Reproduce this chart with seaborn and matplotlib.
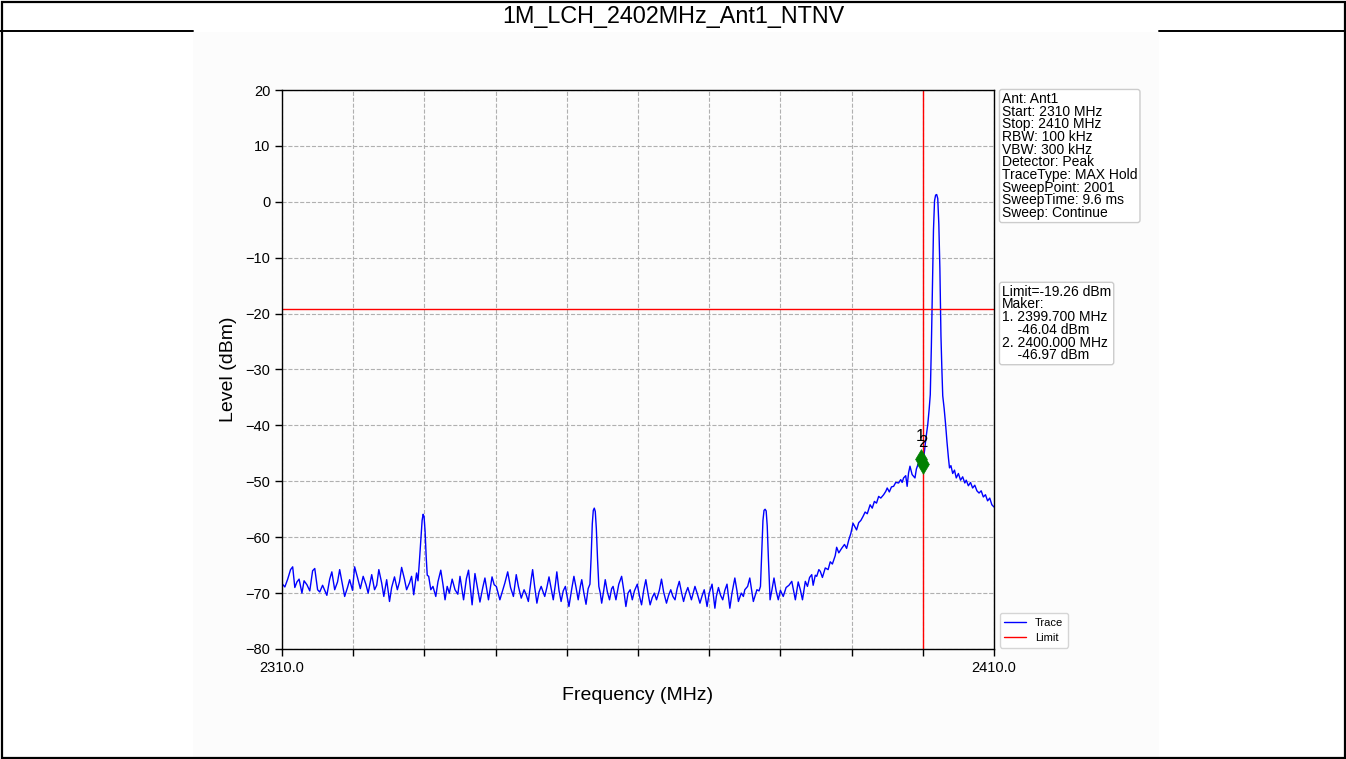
import matplotlib
matplotlib.use("Agg")
import matplotlib.pyplot as plt
from matplotlib.patches import Rectangle
from matplotlib.lines import Line2D
import pandas as pd
import seaborn as sns

sns.set_style("ticks")
plt.rcParams["font.family"] = ["Liberation Sans", "DejaVu Sans"]
plt.rcParams["text.color"] = "black"
plt.rcParams["axes.labelcolor"] = "black"

# ---------------------------------------------------------------- data
TITLE = "1M_LCH_2402MHz_Ant1_NTNV"
START_MHZ, STOP_MHZ = 2310.0, 2410.0
LIMIT_DBM = -19.26

marker_freq = [2399.700, 2400.000]
marker_level = [-46.04, -46.97]
marker_names = ["1", "2"]

settings_lines = [
    "Ant: Ant1",
    "Start: 2310 MHz",
    "Stop: 2410 MHz",
    "RBW: 100 kHz",
    "VBW: 300 kHz",
    "Detector: Peak",
    "TraceType: MAX Hold",
    "SweepPoint: 2001",
    "SweepTime: 9.6 ms",
    "Sweep: Continue",
]

y_ticks = [-80, -70, -60, -50, -40, -30, -20, -10, 0, 10, 20]
x_major_ticks = [2310, 2410]
x_major_labels = ["2310.0", "2410.0"]
x_minor_ticks = [2320, 2330, 2340, 2350, 2360, 2370, 2380, 2390, 2400]

# trace (frequency MHz, level dBm), MAX hold
floor_a = [
    (2310.0, -68.3), (2310.4, -68.9), (2310.8, -67.5), (2311.2, -65.8), (2311.5, -65.3),
    (2311.8, -69.0), (2312.1, -68.0), (2312.4, -67.5), (2312.8, -70.0), (2313.1, -67.8),
    (2313.5, -68.5), (2313.9, -69.6), (2314.3, -66.0), (2314.6, -65.6), (2315.0, -69.4),
    (2315.3, -69.8), (2315.7, -68.6), (2316.3, -70.4), (2316.7, -67.5), (2317.0, -66.2),
    (2317.4, -69.4), (2317.8, -68.0), (2318.1, -65.8), (2318.5, -68.5), (2318.8, -70.6),
    (2319.2, -69.0), (2319.5, -67.6), (2319.9, -69.5), (2320.2, -65.3), (2320.6, -67.2),
    (2321.0, -69.2), (2321.4, -67.0), (2321.8, -68.5), (2322.1, -70.0), (2322.6, -66.7),
    (2323.0, -69.4), (2323.3, -68.6), (2323.6, -65.8), (2324.0, -68.2), (2324.3, -70.6),
    (2324.7, -67.6), (2325.1, -71.5), (2325.4, -69.0), (2325.8, -67.1), (2326.2, -69.4),
    (2326.5, -68.0), (2326.8, -65.4), (2327.2, -67.5), (2327.5, -69.4), (2327.9, -68.2),
    (2328.2, -67.0), (2328.5, -70.3), (2328.9, -66.4), (2329.1, -67.8),
]
spur_1 = [
    (2329.3, -64.3), (2329.5, -60.5), (2329.68, -57.0), (2329.82, -55.9),
    (2329.95, -56.3), (2330.1, -59.0), (2330.25, -63.5), (2330.4, -66.8),
]
floor_b = [
    (2330.6, -67.0), (2330.9, -69.4), (2331.2, -68.8), (2331.6, -70.6), (2331.9, -68.0),
    (2332.3, -65.9), (2332.6, -68.4), (2332.9, -71.2), (2333.2, -68.8), (2333.5, -70.0),
    (2333.9, -67.5), (2334.3, -69.4), (2334.7, -70.2), (2335.0, -67.0), (2335.5, -71.2),
    (2335.9, -67.4), (2336.2, -65.9), (2336.7, -72.1), (2337.1, -66.5), (2337.4, -68.7),
    (2337.8, -71.6), (2338.2, -69.0), (2338.5, -67.3), (2339.0, -71.2), (2339.5, -67.1),
    (2339.8, -68.5), (2340.1, -68.8), (2340.6, -71.2), (2341.0, -69.5), (2341.3, -68.2),
    (2341.7, -66.2), (2342.1, -69.0), (2342.5, -70.6), (2342.9, -66.7), (2343.2, -68.8),
    (2343.6, -70.9), (2344.0, -69.4), (2344.3, -70.3), (2344.6, -71.5), (2345.0, -67.5),
    (2345.2, -65.8), (2345.5, -69.0), (2345.8, -71.8), (2346.1, -69.8), (2346.4, -68.8),
    (2346.9, -70.6), (2347.2, -69.0), (2347.5, -67.1), (2348.1, -71.2), (2348.4, -68.4),
    (2348.6, -66.2), (2348.9, -69.5), (2349.2, -71.5), (2349.5, -69.6), (2349.8, -68.8),
    (2350.3, -72.4), (2350.7, -69.2), (2351.0, -67.0), (2351.3, -69.0), (2351.6, -71.2),
    (2351.9, -68.8), (2352.1, -67.6), (2352.4, -70.0), (2352.7, -72.0), (2353.0, -69.2),
]
spur_2 = [
    (2353.25, -68.4), (2353.42, -63.5), (2353.58, -57.6), (2353.72, -55.2), (2353.86, -54.8),
    (2354.0, -55.4), (2354.15, -58.5), (2354.32, -64.0), (2354.5, -68.8),
]
floor_c = [
    (2354.7, -70.0), (2354.9, -71.8), (2355.2, -69.4), (2355.4, -67.6), (2355.7, -69.8),
    (2356.0, -71.2), (2356.3, -69.2), (2356.5, -68.8), (2356.9, -71.2), (2357.3, -68.4),
    (2357.7, -67.0), (2358.0, -69.5), (2358.3, -72.4), (2358.6, -70.0), (2358.9, -69.4),
    (2359.2, -71.2), (2359.5, -69.6), (2359.9, -68.4), (2360.2, -70.5), (2360.5, -72.1),
    (2360.8, -69.5), (2361.1, -67.6), (2361.4, -70.0), (2361.7, -72.1), (2362.0, -70.8),
    (2362.3, -70.0), (2362.6, -71.2), (2363.0, -69.5), (2363.3, -67.5), (2363.6, -69.8),
    (2364.0, -71.8), (2364.3, -70.4), (2364.6, -69.4), (2364.9, -70.6), (2365.2, -71.2),
    (2365.5, -69.2), (2365.8, -67.9), (2366.1, -69.8), (2366.4, -71.5), (2366.7, -70.0),
    (2367.0, -69.0), (2367.5, -71.2), (2368.0, -68.8), (2368.3, -70.0), (2368.7, -71.8),
    (2369.0, -70.5), (2369.3, -69.4), (2369.7, -72.4), (2370.0, -70.0), (2370.4, -68.4),
    (2370.8, -72.7), (2371.0, -70.6), (2371.3, -69.0), (2371.6, -70.4), (2371.9, -71.2),
    (2372.2, -69.5), (2372.5, -68.4), (2372.9, -72.7), (2373.2, -70.0), (2373.6, -67.3),
    (2373.9, -69.6), (2374.1, -71.5), (2374.5, -70.0), (2374.8, -70.6), (2375.0, -69.4),
    (2375.4, -68.8), (2375.7, -67.3), (2376.0, -69.8), (2376.2, -71.5), (2376.5, -70.2),
    (2376.7, -69.4), (2377.0, -69.6),
]
spur_3 = [
    (2377.2, -68.8), (2377.38, -62.5), (2377.55, -57.0), (2377.7, -55.2), (2377.85, -55.0),
    (2378.0, -55.3), (2378.15, -58.0), (2378.32, -64.0), (2378.55, -71.2),
]
floor_d = [
    (2378.8, -69.5), (2379.1, -67.3), (2379.4, -69.6), (2379.7, -71.2), (2380.0, -69.5),
    (2380.4, -70.6), (2380.8, -69.0), (2381.2, -68.6), (2381.6, -67.9), (2382.1, -71.2),
    (2382.5, -68.0), (2382.8, -69.4), (2383.1, -71.2),
]
skirt_low = [
    (2383.5, -67.9), (2383.8, -68.8), (2384.1, -67.2), (2384.4, -66.7), (2384.6, -68.6),
    (2384.9, -66.8), (2385.1, -67.0), (2385.4, -65.8), (2385.6, -66.1), (2385.9, -67.2),
    (2386.3, -65.5), (2386.7, -65.8), (2387.0, -64.4), (2387.3, -64.8), (2387.7, -63.3),
    (2387.9, -61.8), (2388.2, -62.8), (2388.6, -62.0), (2389.0, -61.3), (2389.3, -62.0),
    (2389.6, -60.5), (2389.9, -59.3), (2390.2, -57.5), (2390.5, -58.2), (2390.7, -58.7),
    (2391.0, -57.4), (2391.3, -57.0), (2391.6, -56.3), (2391.9, -55.5), (2392.2, -55.8),
    (2392.6, -54.2), (2392.9, -54.8), (2393.2, -53.6), (2393.5, -53.9), (2393.8, -52.7),
    (2394.1, -53.0), (2394.5, -52.4), (2394.8, -51.8), (2395.0, -51.2), (2395.3, -51.9),
    (2395.6, -51.0), (2395.9, -50.9), (2396.2, -50.2), (2396.6, -50.3), (2396.9, -49.7),
    (2397.1, -50.2), (2397.3, -49.4), (2397.6, -49.0), (2397.8, -50.9), (2398.0, -48.5),
    (2398.2, -47.3), (2398.5, -48.8), (2398.9, -49.4), (2399.1, -47.8), (2399.4, -46.7),
    (2399.7, -46.04), (2399.85, -45.6), (2400.0, -46.97),
]
carrier = [
    (2400.2, -45.0), (2400.45, -42.2), (2400.7, -39.8), (2400.9, -37.0), (2401.05, -34.5),
    (2401.2, -26.0), (2401.35, -15.0), (2401.5, -5.0), (2401.65, 0.2), (2401.8, 1.2),
    (2401.95, 1.3), (2402.1, 0.6), (2402.25, -4.0), (2402.4, -12.0), (2402.55, -24.0),
    (2402.68, -30.0), (2402.8, -34.7), (2403.0, -37.0), (2403.2, -39.8), (2403.4, -43.0),
    (2403.6, -45.8),
]
skirt_high = [
    (2403.75, -47.6), (2403.95, -47.2), (2404.2, -48.6), (2404.45, -48.0), (2404.7, -49.4),
    (2405.0, -48.6), (2405.3, -49.8), (2405.6, -49.2), (2405.9, -50.3), (2406.1, -49.8),
    (2406.4, -50.8), (2406.7, -50.2), (2407.0, -51.2), (2407.3, -50.7), (2407.6, -51.7),
    (2407.9, -52.1), (2408.2, -51.7), (2408.5, -52.8), (2408.8, -52.4), (2409.1, -53.5),
    (2409.4, -53.0), (2409.7, -54.2), (2410.0, -54.6),
]

trace = pd.DataFrame(
    floor_a + spur_1 + floor_b + spur_2 + floor_c + spur_3
    + floor_d + skirt_low + carrier + skirt_high,
    columns=["freq", "level"],
)

# ---------------------------------------------------------------- page layout
W, H = 1346, 759
fig = plt.figure(figsize=(W / 100, H / 100), dpi=100)


def fx(px):
    return px / W


def fy(py):
    return 1 - py / H


# slightly grey image panel under the header row
fig.patches.append(Rectangle((fx(193), 0), fx(1159) - fx(193), fy(32),
                             transform=fig.transFigure, facecolor="#fcfcfc",
                             edgecolor="none", zorder=-10))
# outer frame and header separator
fig.patches.append(Rectangle((fx(1.5), fy(757.5)), fx(1344.5) - fx(1.5), fy(1.5) - fy(757.5),
                             transform=fig.transFigure, fill=False,
                             edgecolor="black", linewidth=1.6, zorder=5))
for x0, x1 in [(0, 193), (1159, W)]:
    fig.lines.append(Line2D([fx(x0), fx(x1)], [fy(31), fy(31)],
                            transform=fig.transFigure, color="black", linewidth=1.4))
fig.text(0.5, fy(17), TITLE, ha="center", va="center", fontsize=16.8, color="black")

# ---------------------------------------------------------------- spectrum axes
ax = fig.add_axes([fx(282), fy(649), fx(994) - fx(282), fy(90) - fy(649)])
ax.set_facecolor("none")

sns.lineplot(data=trace, x="freq", y="level", ax=ax, color="#0000ff",
             linewidth=1.0, estimator=None, sort=False, label="Trace")
ax.axhline(LIMIT_DBM, color="red", linewidth=1.0, label="Limit")
ax.axvline(marker_freq[-1], color="red", linewidth=1.0)

sns.scatterplot(x=marker_freq, y=marker_level, ax=ax, marker="d", s=100,
                color="green", edgecolor="green", linewidth=0.5, zorder=6, legend=False)
for f, lv, name in zip(marker_freq, marker_level, marker_names):
    ax.text(f, lv + 4.0, name, ha="center", va="center", fontsize=12, color="black", zorder=7)

ax.set_xlim(START_MHZ, STOP_MHZ)
ax.set_ylim(-80, 20)
ax.set_xticks(x_major_ticks, labels=x_major_labels)
ax.set_xticks(x_minor_ticks, minor=True)
ax.set_yticks(y_ticks)
ax.tick_params(which="both", direction="out", length=5, width=1, colors="black",
               labelsize=10.5)
ax.grid(True, which="both", linestyle="--", color="#b0b0b0", linewidth=0.8)
for sp in ax.spines.values():
    sp.set_color("black")
    sp.set_linewidth(1.0)

ax.set_xlabel("Frequency (MHz)", fontsize=14, labelpad=9)
ax.set_ylabel("Level (dBm)", fontsize=14, labelpad=6)

# ---------------------------------------------------------------- info panels
box = dict(boxstyle="round,pad=0.18", facecolor="white", edgecolor="#cccccc", linewidth=1.0)
ax.text(1.0112, 0.9965, "\n".join(settings_lines), transform=ax.transAxes,
        ha="left", va="top", fontsize=10, linespacing=0.88, bbox=box)

marker_lines = [f"Limit={LIMIT_DBM:.2f} dBm", "Maker:"]
for name, f, lv in zip(marker_names, marker_freq, marker_level):
    marker_lines.append(f"{name}. {f:.3f} MHz")
    marker_lines.append(f"    {lv:.2f} dBm")
ax.text(1.0112, 0.6515, "\n".join(marker_lines), transform=ax.transAxes,
        ha="left", va="top", fontsize=10, linespacing=0.88, bbox=box)

ax.legend(loc="lower left", bbox_to_anchor=(1.0, -0.0075), fontsize=8,
          frameon=True, edgecolor="#cccccc", fancybox=True)

fig.savefig("out.png", dpi=100)
